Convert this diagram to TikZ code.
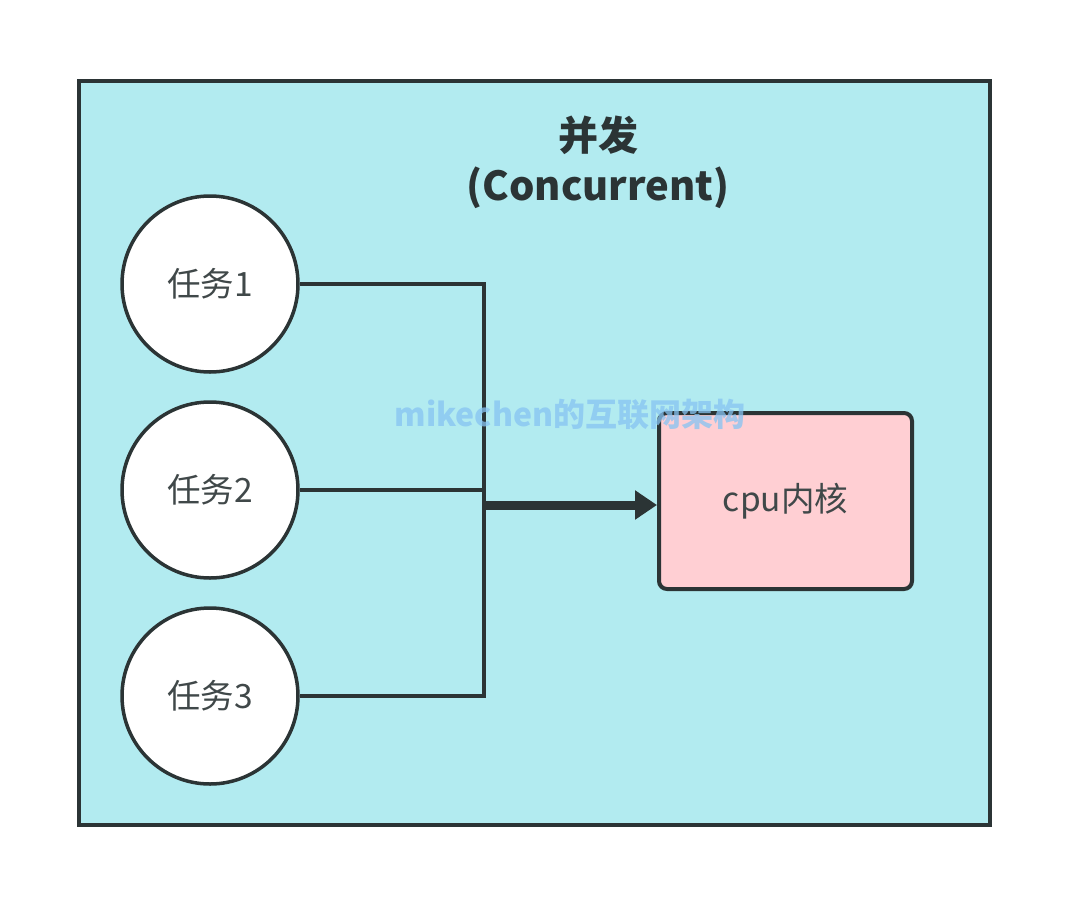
\documentclass[tikz,border=0pt]{standalone}
\usepackage{fontspec}
\newfontfamily\cjk{Noto Sans CJK SC}
\usetikzlibrary{arrows.meta}
\definecolor{bgcyan}{HTML}{B2EBF0}
\definecolor{boxpink}{HTML}{FFCFD3}
\definecolor{stroke}{HTML}{2B3435}
\definecolor{wmblue}{HTML}{86C3F2}
\tikzset{
  task/.style={circle, draw=stroke, line width=3.5pt, fill=white, minimum size=176pt, inner sep=0pt, font=\cjk\fontsize{33.5}{38}\selectfont, text=stroke!90},
  core/.style={rectangle, rounded corners=8pt, draw=stroke, line width=4pt, fill=boxpink, minimum width=253pt, minimum height=176pt, font=\cjk\fontsize{33.5}{38}\selectfont, text=stroke!90},
  link/.style={draw=stroke, line width=3.5pt},
  main/.style={draw=stroke, line width=9pt, -{Triangle[length=22pt,width=28pt]}}
}
\begin{document}
\begin{tikzpicture}[x=1pt,y=-1pt]
\useasboundingbox (0,0) rectangle (1073,905);
\fill[white] (0,0) rectangle (1073,905);
\node[draw=stroke, line width=3.5pt, fill=bgcyan, minimum width=911pt, minimum height=744pt, inner sep=0pt] (frame) at (534.5,453) {};
\node[font=\cjk\bfseries\fontsize{40}{50}\selectfont, text=stroke, align=center] (title) at (598,162) {并发\\(Concurrent)};
\node[task] (t1) at (210,284) {任务1};
\node[task] (t2) at (210,490) {任务2};
\node[task] (t3) at (210,696) {任务3};
\node[core] (cpu) at (785.5,501) {cpu内核};
\coordinate (j) at (484,505);
\draw[link] (t1.east) -| (j);
\draw[link] (t3.east) -| (j);
\draw[link] (t2.east) -- (t2.east -| j);
\draw[main] (j) -- (cpu.west |- j);
\node[font=\cjk\bfseries\fontsize{32}{36}\selectfont, text=wmblue, opacity=0.75] (wm) at (570,415) {mikechen的互联网架构};
\end{tikzpicture}
\end{document}
